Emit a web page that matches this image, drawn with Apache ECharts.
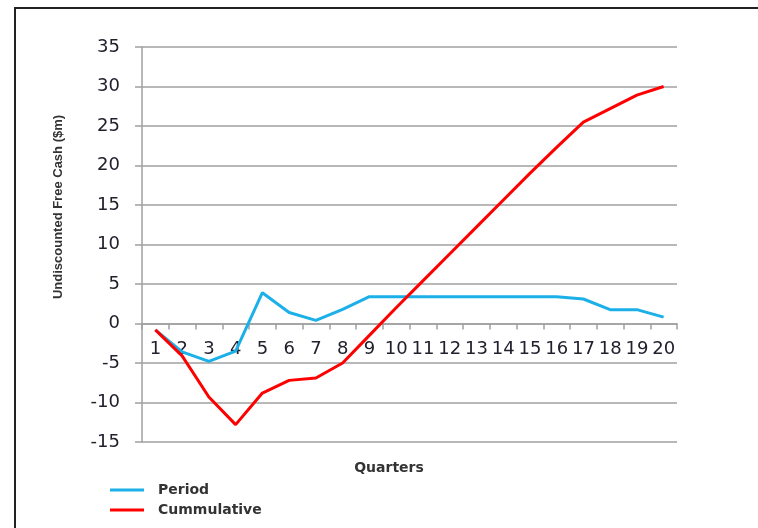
<!DOCTYPE html>
<html>
<head>
<meta charset="utf-8">
<script src="https://cdn.jsdelivr.net/npm/echarts@6/dist/echarts.min.js"></script>
<style>
html,body{margin:0;padding:0;background:#fff;}
#chart{width:758px;height:528px;}
</style>
</head>
<body>
<div id="chart"></div>
<script>
// quarters 1..20
var quarters = ['1','2','3','4','5','6','7','8','9','10','11','12','13','14','15','16','17','18','19','20'];
var period = [-0.8, -3.6, -4.8, -3.5, 3.9, 1.4, 0.4, 1.8, 3.4, 3.4, 3.4, 3.4, 3.4, 3.4, 3.4, 3.4, 3.1, 1.75, 1.75, 0.8];
var cummulative = [-0.8, -4.1, -9.3, -12.8, -8.8, -7.2, -6.9, -5.0, -1.5, 2.0, 5.4, 8.8, 12.2, 15.6, 19.0, 22.3, 25.5, 27.2, 28.9, 30.0];
var yMin = -15, yMax = 35, yStep = 5;

var chart = echarts.init(document.getElementById('chart'));
var gridGrey = '#a0a0a0';
var textCol = '#23202e';
var gridTop = 47, gridBottom = 86;
var plotH = 528 - gridTop - gridBottom;
// distance from bottom of plot to the zero line, so the labels sit under y=0
var zeroOffset = (0 - yMin) / (yMax - yMin) * plotH;

var option = {
    animation: false,
    textStyle: {fontFamily: 'DejaVu Sans'},
    grid: {left: 142, right: 81, top: gridTop, bottom: gridBottom},
    legend: {
        orient: 'vertical',
        left: 105,
        top: 478,
        itemWidth: 34,
        itemHeight: 3,
        itemGap: 6,
        icon: 'rect',
        textStyle: {fontFamily: 'DejaVu Sans', fontWeight: 'bold', fontSize: 14, color: '#333', padding: [0, 0, 0, 9]},
        data: ['Period', 'Cummulative']
    },
    xAxis: [{
        type: 'category',
        data: quarters,
        axisLine: {onZero: true, lineStyle: {color: gridGrey, width: 1.5}},
        axisTick: {show: true, length: 6, lineStyle: {color: gridGrey, width: 1.5}},
        axisLabel: {show: false}
    }, {
        type: 'category',
        data: quarters,
        position: 'bottom',
        offset: -zeroOffset,
        axisLine: {show: false, onZero: false},
        axisTick: {show: false},
        axisLabel: {interval: 0, margin: 17, fontSize: 18, color: textCol, fontFamily: 'DejaVu Sans'}
    }],
    yAxis: {
        type: 'value',
        min: yMin, max: yMax, interval: yStep,
        axisLine: {show: true, lineStyle: {color: gridGrey, width: 1.5}},
        axisTick: {show: true, length: 7, lineStyle: {color: gridGrey, width: 1.5}},
        axisLabel: {margin: 22, fontSize: 18, color: textCol, fontFamily: 'DejaVu Sans'},
        splitLine: {lineStyle: {color: gridGrey, width: 1.5}}
    },
    graphic: [
        {type: 'rect', shape: {x: 15, y: 8, width: 900, height: 700},
         style: {fill: 'none', stroke: '#222', lineWidth: 2}, silent: true},
        {type: 'text', x: 58, y: 207, rotation: Math.PI / 2,
         style: {text: 'Undiscounted Free Cash ($m)', fontFamily: 'Liberation Sans', fontWeight: 'bold',
                 fontSize: 13, fill: '#333', align: 'center', verticalAlign: 'middle'}},
        {type: 'text', x: 389, y: 468,
         style: {text: 'Quarters', fontFamily: 'DejaVu Sans', fontWeight: 'bold',
                 fontSize: 14, fill: '#333', align: 'center', verticalAlign: 'middle'}}
    ],
    series: [
        {name: 'Period', type: 'line', data: period, symbol: 'none',
         itemStyle: {color: '#1cb0e8'}, lineStyle: {color: '#1cb0e8', width: 3}},
        {name: 'Cummulative', type: 'line', data: cummulative, symbol: 'none',
         itemStyle: {color: '#ff0000'}, lineStyle: {color: '#ff0000', width: 3}}
    ]
};
chart.setOption(option);
</script>
</body>
</html>
